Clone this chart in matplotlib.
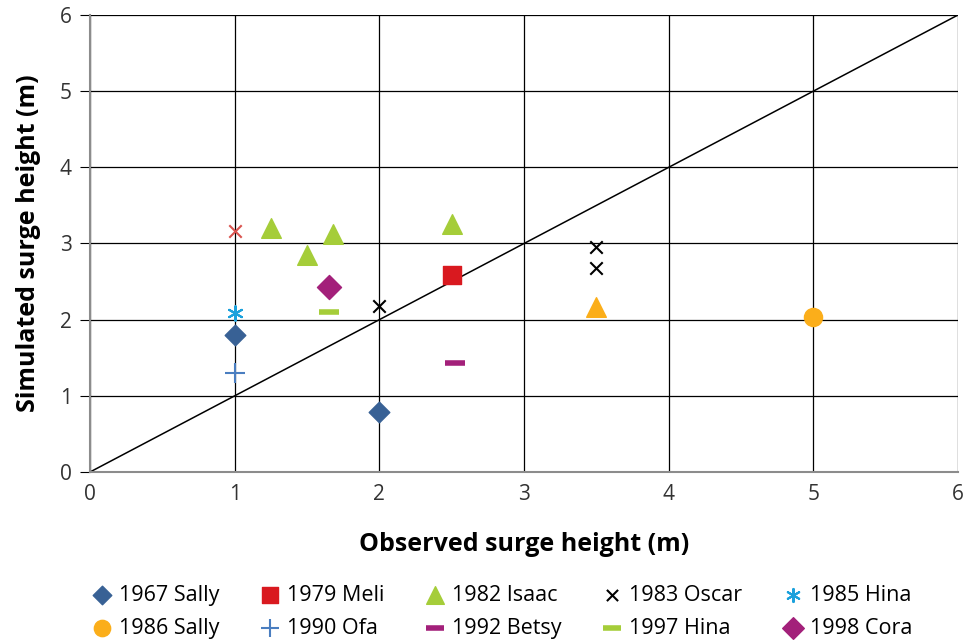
import matplotlib.pyplot as plt
import numpy as np

plt.rcParams['font.family'] = ['Open Sans', 'DejaVu Sans']

# observed (x) and simulated (y) surge heights, per storm
sally67_x = [1.0, 2.0]
sally67_y = [1.80, 0.79]
meli_x = [2.5]
meli_y = [2.58]
isaac_x = [1.25, 1.5, 1.68, 2.5]
isaac_y = [3.20, 2.85, 3.13, 3.25]
oscar_x = [2.0, 3.5, 3.5]
oscar_y = [2.18, 2.95, 2.68]
hina85_x = [1.0]
hina85_y = [2.09]
sally86_x = [5.0]
sally86_y = [2.03]
ofa_x = [1.0]
ofa_y = [1.30]
betsy_x = [2.52]
betsy_y = [1.43]
hina97_x = [1.65]
hina97_y = [2.10]
cora_x = [1.65]
cora_y = [2.43]
# points shown without a legend entry
extra_x_x = [1.0]
extra_x_y = [3.17]
extra_tri_x = [3.5]
extra_tri_y = [2.17]

fig = plt.figure(figsize=(9.64, 6.4), dpi=100)
ax = fig.add_axes([0.0934, 0.2625, 0.9004, 0.7141])

ax.set_xlim(0, 6)
ax.set_ylim(0, 6)
ax.set_xticks(range(7))
ax.set_yticks(range(7))
ax.grid(True, color='black', linewidth=0.9)
ax.set_axisbelow(True)
for s in ['top', 'right']:
    ax.spines[s].set_visible(False)
for s in ['left', 'bottom']:
    ax.spines[s].set_color('#8c8c8c')
    ax.spines[s].set_linewidth(1.5)
ax.tick_params(axis='y', length=7, color='black', labelsize=15, colors='#333333', pad=6)
ax.tick_params(axis='x', length=0, labelsize=15, colors='#333333', pad=9)

# 1:1 line
ax.plot([0, 6], [0, 6], color='black', linewidth=1.1, zorder=2)

h = {}
h['1967 Sally'] = ax.scatter(sally67_x, sally67_y, marker='D', s=110, color='#386195', zorder=3)
h['1979 Meli'] = ax.scatter(meli_x, meli_y, marker='s', s=150, color='#D9191F', zorder=3)
h['1982 Isaac'] = ax.scatter(isaac_x, isaac_y, marker='^', s=200, color='#A5CD39', zorder=3)
h['1983 Oscar'] = ax.scatter(oscar_x, oscar_y, marker='x', s=80, color='black', linewidths=1.5, zorder=3)
h['1985 Hina'] = ax.scatter(hina85_x, hina85_y, marker=(6, 2, 0), s=110, color='#1BA1DC', linewidths=1.5, zorder=3)
h['1986 Sally'] = ax.scatter(sally86_x, sally86_y, marker='o', s=170, color='#FBAE1A', zorder=3)
h['1990 Ofa'] = ax.scatter(ofa_x, ofa_y, marker='+', s=200, color='#4A7EC0', linewidths=1.5, zorder=3)
h['1992 Betsy'] = ax.scatter(betsy_x, betsy_y, marker='_', s=220, color='#A3207A', linewidths=4, zorder=3)
h['1997 Hina'] = ax.scatter(hina97_x, hina97_y, marker='_', s=220, color='#A5CD39', linewidths=4, zorder=3)
h['1998 Cora'] = ax.scatter(cora_x, cora_y, marker='D', s=150, color='#A3207A', zorder=3)
ax.scatter(extra_x_x, extra_x_y, marker='x', s=80, color='#D9534F', linewidths=1.5, zorder=3)
ax.scatter(extra_tri_x, extra_tri_y, marker='^', s=200, color='#FBAE1A', zorder=3)

ax.set_xlabel('Observed surge height (m)', fontsize=18, fontweight='bold', labelpad=19)
ax.set_ylabel('Simulated surge height (m)', fontsize=18, fontweight='bold', labelpad=14)

order = ['1967 Sally', '1986 Sally', '1979 Meli', '1990 Ofa', '1982 Isaac',
         '1992 Betsy', '1983 Oscar', '1997 Hina', '1985 Hina', '1998 Cora']
fig.legend([h[k] for k in order], order, loc='lower center', ncol=5,
           bbox_to_anchor=(0.52, -0.028), frameon=False, fontsize=15.5,
           handletextpad=0.25, columnspacing=1.8, labelspacing=0.55,
           markerscale=0.9, handlelength=1.1)

fig.savefig('out.png', dpi=100)
